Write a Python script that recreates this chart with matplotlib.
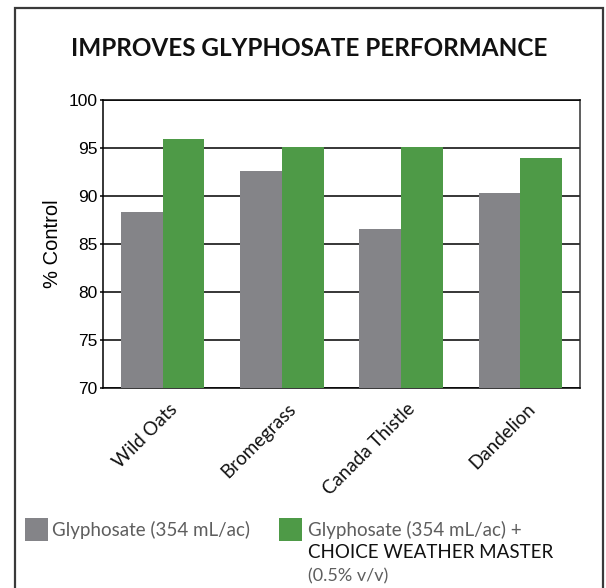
import matplotlib
matplotlib.use("Agg")
import matplotlib.pyplot as plt
import numpy as np
from matplotlib.patches import Rectangle

categories = ["Wild Oats", "Bromegrass", "Canada Thistle", "Dandelion"]
glyphosate = [88.3, 92.6, 86.6, 90.3]
glyphosate_cwm = [95.9, 95.1, 95.1, 94.0]
yticks = [70, 75, 80, 85, 90, 95, 100]
title = "IMPROVES GLYPHOSATE PERFORMANCE"
ylabel = "% Control"
legend1 = "Glyphosate (354 mL/ac)"
legend2a = "Glyphosate (354 mL/ac) +"
legend2b = "CHOICE WEATHER MASTER"
legend2c = "(0.5% v/v)"

GRAY = "#848488"
GREEN = "#4e9a47"

W, H = 606, 588
fig = plt.figure(figsize=(W / 100, H / 100), dpi=100)
fig.patch.set_facecolor("white")

def fx(px):
    return px / W

def fy(py):
    return 1 - py / H

# outer frame
fig.patches.append(Rectangle((fx(15), fy(700)), fx(603) - fx(15), fy(7.5) - fy(700),
                             transform=fig.transFigure, fill=False,
                             edgecolor="#3a3a3a", linewidth=1.6, clip_on=False))

ax = fig.add_axes([fx(103), fy(388), fx(580) - fx(103), fy(100) - fy(388)])
x = np.arange(len(categories))
bw = 0.35
ax.bar(x - bw / 2, glyphosate, width=bw, color=GRAY, zorder=3)
ax.bar(x + bw / 2, glyphosate_cwm, width=bw, color=GREEN, zorder=3)
ax.set_ylim(70, 100)
ax.set_xlim(-0.5, len(categories) - 0.5)
ax.set_yticks(yticks)
ax.set_yticklabels([str(t) for t in yticks], fontfamily="Liberation Sans", fontsize=12.5)
ax.yaxis.grid(True, color="black", linewidth=1.1, zorder=0)
ax.set_axisbelow(True)
ax.tick_params(axis="y", length=2, width=1.1, pad=2, colors="black")
ax.tick_params(axis="x", length=0)
for s in ax.spines.values():
    s.set_color("black")
    s.set_linewidth(1.1)
ax.spines["right"].set_color("#333333")

ax.set_xticks(x)
ax.set_xticklabels([])
for xi, lab in zip(x, categories):
    ax.annotate(lab, xy=(xi, 0), xycoords=("data", "axes fraction"),
                xytext=(4, -9), textcoords="offset points",
                rotation=45, ha="right", va="top", rotation_mode="anchor",
                fontfamily="Lato", fontsize=13.5, color="#111111")

ax.set_ylabel(ylabel, fontfamily="Liberation Sans", fontsize=14.5, labelpad=5)

fig.text(fx(309), fy(48), title, ha="center", va="center",
         fontfamily="Lato", fontweight="bold", fontsize=17.5, color="#111111")

# legend
fig.patches.append(Rectangle((fx(25), fy(541)), fx(48) - fx(25), fy(518) - fy(541),
                             transform=fig.transFigure, facecolor=GRAY, edgecolor="none"))
fig.patches.append(Rectangle((fx(279), fy(541)), fx(302) - fx(279), fy(518) - fy(541),
                             transform=fig.transFigure, facecolor=GREEN, edgecolor="none"))
fig.text(fx(52), fy(530), legend1, ha="left", va="center",
         fontfamily="Lato", fontsize=13.5, color="#5e5e5e")
fig.text(fx(308), fy(530), legend2a, ha="left", va="center",
         fontfamily="Lato", fontsize=13.5, color="#5e5e5e")
fig.text(fx(308), fy(553), legend2b, ha="left", va="center",
         fontfamily="Lato", fontsize=13.5, color="#111111")
fig.text(fx(308), fy(576), legend2c, ha="left", va="center",
         fontfamily="Lato", fontsize=13, color="#5e5e5e")

fig.savefig("out.png", dpi=100)
